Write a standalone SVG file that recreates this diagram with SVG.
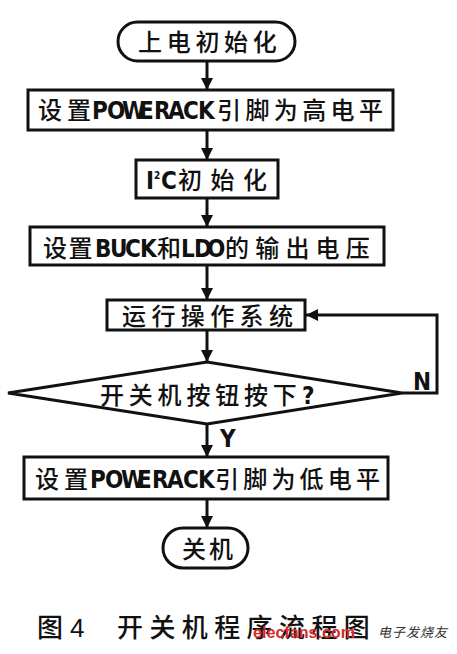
<svg xmlns="http://www.w3.org/2000/svg" width="457" height="654" viewBox="0 0 457 654">
<style>
.box{fill:#fff;stroke:#111;stroke-width:3}
.ln{fill:none;stroke:#111;stroke-width:3}
.cj{font-family:"Noto Sans CJK SC","Noto Sans CJK JP",sans-serif;font-size:24px;font-weight:500;fill:#111}
.la{font-family:"Liberation Sans Narrow","DejaVu Sans Condensed","Liberation Serif",serif;font-weight:bold;font-size:24px;fill:#111}
</style>
<defs>
<marker id="ah" markerUnits="userSpaceOnUse" markerWidth="12" markerHeight="12" refX="12" refY="6" orient="auto">
<path d="M0,0 L12,6 L0,12 z" fill="#111"/>
</marker>
</defs>
<rect width="457" height="654" fill="#fff"/>
<g id="connectors">
<line class="ln" x1="207" y1="61" x2="207" y2="90" marker-end="url(#ah)"/>
<line class="ln" x1="207" y1="130" x2="207" y2="160" marker-end="url(#ah)"/>
<line class="ln" x1="207" y1="198" x2="207" y2="227" marker-end="url(#ah)"/>
<line class="ln" x1="207" y1="265" x2="207" y2="300" marker-end="url(#ah)"/>
<line class="ln" x1="207" y1="330" x2="207" y2="362" marker-end="url(#ah)"/>
<line class="ln" x1="207" y1="424" x2="207" y2="457" marker-end="url(#ah)"/>
<line class="ln" x1="207" y1="499" x2="207" y2="528" marker-end="url(#ah)"/>
<polyline class="ln" points="402,393 437,393 437,315 306,315" marker-end="url(#ah)"/>
<text class="la" x="413" y="390">N</text>
<text class="la" x="220" y="447">Y</text>
</g>
<g id="start">
<rect class="box" x="118" y="22" width="177" height="39" rx="19.5"/>
<text class="cj" x="138" y="51" letter-spacing="4.7">上电初始化</text>
</g>
<g id="set-high">
<rect class="box" x="28" y="90" width="365" height="40"/>
<text class="cj" y="119"><tspan x="38" letter-spacing="5">设置</tspan><tspan class="la" x="92 107 122 139 154 168 183 198">POWERACK</tspan><tspan x="217" letter-spacing="4.4">引脚为高电平</tspan></text>
</g>
<g id="i2c-init">
<rect class="box" x="136" y="160" width="142" height="38"/>
<text class="cj" y="189"><tspan class="la" x="146">I</tspan><tspan class="la" x="154" dy="-10" style="font-size:10px">2</tspan><tspan class="la" x="161" dy="10">C</tspan><tspan x="178" letter-spacing="8.5">初始化</tspan></text>
</g>
<g id="set-voltage">
<rect class="box" x="30" y="227" width="354" height="38"/>
<text class="cj" y="257"><tspan x="43" letter-spacing="1.5">设置</tspan><tspan class="la" x="95 110 125 140">BUCK</tspan><tspan x="157">和</tspan><tspan class="la" x="181 194 207">LDO</tspan><tspan x="225" letter-spacing="6.2">的输出电压</tspan></text>
</g>
<g id="run-os">
<rect class="box" x="107" y="300" width="198" height="30"/>
<text class="cj" x="122" y="325" letter-spacing="5.4">运行操作系统</text>
</g>
<g id="decision">
<polygon class="box" points="8,393 207,362 402,393 207,424"/>
<text class="cj" y="404"><tspan x="100" letter-spacing="4.8">开关机按钮按下</tspan><tspan class="la" x="302">?</tspan></text>
</g>
<g id="set-low">
<rect class="box" x="24" y="457" width="364" height="42"/>
<text class="cj" y="488"><tspan x="35" letter-spacing="5">设置</tspan><tspan class="la" x="90 105 121 137 152 167 183 198">POWERACK</tspan><tspan x="215" letter-spacing="4.2">引脚为低电平</tspan></text>
</g>
<g id="end">
<rect class="box" x="163" y="528" width="85" height="40" rx="20"/>
<text class="cj" x="182" y="558" letter-spacing="3">关机</text>
</g>
<g id="caption">
<text class="cj" y="637" style="font-size:26px"><tspan x="37">图</tspan><tspan style="font-family:'Liberation Sans',sans-serif" x="70">4</tspan><tspan x="117" letter-spacing="6.4">开关机程序流程图</tspan></text>
<text x="253" y="638" font-family="Liberation Sans, sans-serif" font-weight="bold" font-size="16" fill="#d42a2a" textLength="102" lengthAdjust="spacingAndGlyphs">elecfans.com</text>
<text x="378" y="637" font-family="Noto Sans CJK SC, sans-serif" font-size="13" font-style="italic" fill="#333" letter-spacing="1">电子发烧友</text>
</g>
</svg>
